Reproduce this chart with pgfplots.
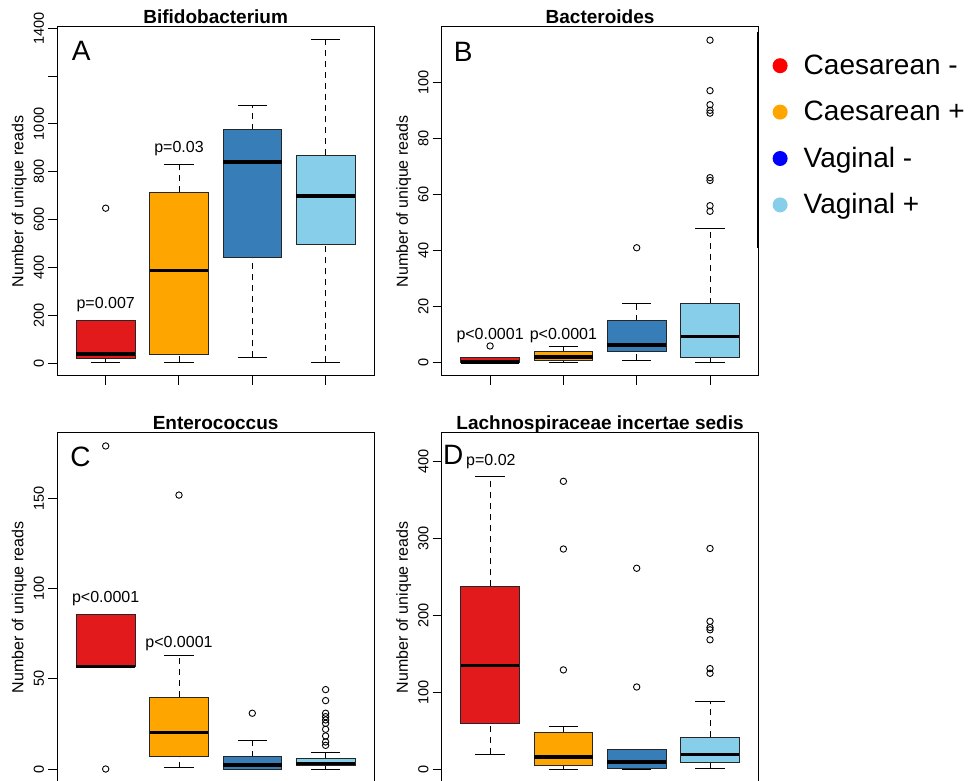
\documentclass[border=0pt]{standalone}
\usepackage{fontspec}
\setmainfont{Liberation Sans}
\usepackage{pgfplots}
\pgfplotsset{compat=1.18}
\definecolor{cred}{HTML}{E31A1C}
\definecolor{corange}{HTML}{FFA500}
\definecolor{cblue}{HTML}{377EB8}
\definecolor{csky}{HTML}{87CEEB}
\definecolor{lred}{HTML}{FF0000}
\definecolor{lblue}{HTML}{0000FF}
\pgfplotsset{
  panel/.style={
    scale only axis, width=316.7pt, height=349pt, anchor=south west,
    xmin=0.34, xmax=4.66, xtick={1,2,3,4}, xticklabels={,,,},
    tick align=outside, xtick pos=bottom, ytick pos=left,
    major tick length=9pt,
    axis line style={line width=1pt},
    every tick/.style={black, line width=1pt},
    /pgf/number format/assume math mode=true,
    /pgf/number format/1000 sep={},
    scaled y ticks=false,
    yticklabel style={rotate=90, anchor=south, inner sep=0pt, font=\fontsize{14.5}{17}\selectfont},
    yticklabel shift=4pt,
    ylabel={Number of unique reads},
    ylabel style={at={(axis description cs:-0.12,0.5)}, anchor=center, font=\fontsize{16}{19}\selectfont},
    title style={at={(axis description cs:0.5,1)}, anchor=base, yshift=-3pt, font=\bfseries\fontsize{19}{22}\selectfont},
    clip=false,
  },
  ldot/.style={legend image code/.code={\fill[#1, draw=none] (7.5pt,8.6pt) circle (7.5pt); \path[draw=none, fill=none] (0pt,0pt) rectangle (31.1pt,1pt);}},
}
% #1 pos, #2 lower whisker, #3 lower quartile, #4 median, #5 upper quartile, #6 upper whisker, #7 colour
\newcommand{\bx}[7]{%
  \pgfmathsetmacro\bxL{#1-0.4}\pgfmathsetmacro\bxR{#1+0.4}%
  \pgfmathsetmacro\cL{#1-0.2}\pgfmathsetmacro\cR{#1+0.2}%
  \edef\bxcmd{%
    \noexpand\addplot[black, line width=0.9pt, dash pattern=on 6pt off 5pt, forget plot] coordinates {(#1,#2) (#1,#3)};%
    \noexpand\addplot[black, line width=0.9pt, dash pattern=on 6pt off 5pt, forget plot] coordinates {(#1,#5) (#1,#6)};%
    \noexpand\addplot[black, line width=0.9pt, forget plot] coordinates {(\cL,#2) (\cR,#2)};%
    \noexpand\addplot[black, line width=0.9pt, forget plot] coordinates {(\cL,#6) (\cR,#6)};%
    \noexpand\addplot[fill=#7, draw=black!85, line width=0.8pt, forget plot] coordinates {(\bxL,#3) (\bxR,#3) (\bxR,#5) (\bxL,#5)} --cycle;%
    \noexpand\addplot[black, line width=3.5pt, forget plot] coordinates {(\bxL,#4) (\bxR,#4)};%
  }\bxcmd}
\newcommand{\outl}[1]{\addplot[only marks, mark=o, mark size=3.2pt, mark options={black, line width=0.9pt, solid}, forget plot] coordinates {#1};}
\newcommand{\ptext}{\fontsize{16}{19}\selectfont}
\newcommand{\ltext}{\fontsize{28}{34}\selectfont}
\begin{document}
\begin{tikzpicture}
% ---------- A ----------
\begin{axis}[panel, at={(57.3pt,405pt)}, ymin=-53, ymax=1405,
  ytick={0,200,400,600,800,1000,1200,1400}, yticklabels={0,200,400,600,800,1000,,1400},
  title={Bifidobacterium}]
\bx{1}{4}{19}{39}{178}{178}{cred}
\bx{2}{4}{39}{387}{714}{830}{corange}
\bx{3}{25}{443}{841}{976}{1078}{cblue}
\bx{4}{4}{497}{699}{870}{1354}{csky}
\outl{(1,648)}
\node[anchor=base west, inner sep=0pt, font=\ltext] at (axis description cs:0.0455,0.9026) {A};
\node[anchor=base, inner sep=0pt, font=\ptext] at (axis cs:1,230) {p=0.007};
\node[anchor=base, inner sep=0pt, font=\ptext] at (axis cs:2,882) {p=0.03};
\end{axis}
% ---------- B ----------
\begin{axis}[panel, at={(441.7pt,405pt)}, ymin=-4.7, ymax=119.7,
  ytick={0,20,40,60,80,100},
  title={Bacteroides},
  legend style={at={(axis description cs:1.0449,0.9218)}, anchor=north west, draw=none, fill=none,
    inner sep=0pt, outer sep=0pt, font=\ltext,
    nodes={inner sep=0pt, text height=20pt, text depth=6pt, anchor=base west},
    row sep=20.4pt, column sep=0pt},
  legend cell align=left]
\addlegendimage{ldot=lred}
\addlegendentry{Caesarean -}
\addlegendimage{ldot=corange}
\addlegendentry{Caesarean +}
\addlegendimage{ldot=lblue}
\addlegendentry{Vaginal -}
\addlegendimage{ldot=csky}
\addlegendentry{Vaginal +}
\bx{1}{0}{0}{0.3}{1.9}{1.9}{cred}
\bx{2}{0}{1}{2.1}{4}{6}{corange}
\bx{3}{1}{4}{6.4}{15}{21}{cblue}
\bx{4}{0}{2}{9.3}{21}{48}{csky}
\outl{(1,6) (3,41) (4,115) (4,97) (4,92) (4,90) (4,89) (4,66) (4,65) (4,56) (4,54)}
\node[anchor=base west, inner sep=0pt, font=\ltext] at (axis description cs:0.038,0.9006) {B};
\node[anchor=base, inner sep=0pt, font=\ptext] at (axis cs:1,8.44) {p<0.0001};
\node[anchor=base, inner sep=0pt, font=\ptext] at (axis cs:2,8.44) {p<0.0001};
\draw[line width=1.3pt] (axis description cs:0.998,0.9865) -- (axis description cs:0.998,0.3668);
\end{axis}
% ---------- C ----------
\begin{axis}[panel, at={(57.3pt,-1pt)}, ymin=-7.2, ymax=186.2,
  ytick={0,50,100,150},
  title={Enterococcus}]
\bx{1}{56.7}{56.7}{56.9}{85.7}{85.7}{cred}
\bx{2}{0.7}{6.8}{20.1}{39.9}{62.8}{corange}
\bx{3}{0}{0}{2.2}{6.8}{15.7}{cblue}
\bx{4}{0}{1.8}{3.1}{5.7}{9.1}{csky}
\outl{(1,0) (1,179) (2,151.8) (3,30.9) (4,44) (4,37.9) (4,30.9) (4,29) (4,27.2) (4,25.3) (4,22) (4,18.3) (4,15) (4,13.1)}
\node[anchor=base west, inner sep=0pt, font=\ltext] at (axis description cs:0.041,0.904) {C};
\node[anchor=base, inner sep=0pt, font=\ptext] at (axis cs:1,92.4) {p<0.0001};
\node[anchor=base, inner sep=0pt, font=\ptext] at (axis cs:2,67.2) {p<0.0001};
\end{axis}
% ---------- D ----------
\begin{axis}[panel, at={(441.7pt,-1pt)}, ymin=-16.8, ymax=436.8,
  ytick={0,100,200,300,400},
  title={Lachnospiraceae incertae sedis}]
\bx{1}{19.5}{59.5}{134.5}{237.3}{380}{cred}
\bx{2}{0}{4.3}{15.6}{48.2}{55.5}{corange}
\bx{3}{0}{0.4}{9.5}{25.6}{25.6}{cblue}
\bx{4}{1}{8.7}{18.7}{41.2}{88}{csky}
\outl{(2,374) (2,286) (2,128.9) (3,261) (3,106.7) (4,286.7) (4,192) (4,184) (4,181) (4,168) (4,130.6) (4,124.5)}
\node[anchor=base west, inner sep=0pt, font=\ltext] at (axis description cs:0.004,0.909) {D};
\node[anchor=base west, inner sep=0pt, font=\ptext] at (axis cs:0.672,394.8) {p=0.02};
\end{axis}
\pgfresetboundingbox
\useasboundingbox (0pt,0pt) rectangle (974pt,781pt);
\end{tikzpicture}
\end{document}
